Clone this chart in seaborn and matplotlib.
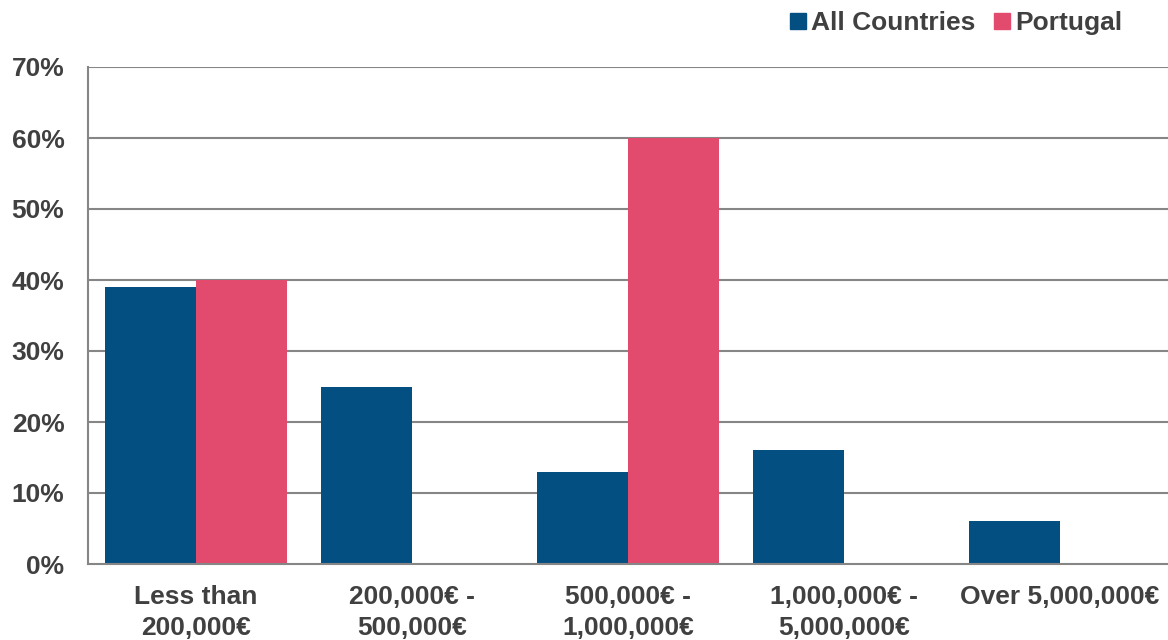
import matplotlib
matplotlib.use("Agg")
import matplotlib.pyplot as plt
import seaborn as sns
import pandas as pd
from matplotlib.lines import Line2D

categories = ["Less than\n200,000€", "200,000€ -\n500,000€", "500,000€ -\n1,000,000€",
              "1,000,000€ -\n5,000,000€", "Over 5,000,000€"]
series_names = ["All Countries", "Portugal"]
all_countries = [39, 25, 13, 16, 6]
portugal = [40, 0, 60, 0, 0]
y_ticks = [0, 10, 20, 30, 40, 50, 60, 70]
colors = ["#034F82", "#E24A6E"]

df = pd.DataFrame({
    "category": categories * 2,
    "series": [series_names[0]] * len(categories) + [series_names[1]] * len(categories),
    "value": all_countries + portugal,
})

sns.set_theme(style="white")
plt.rcParams["font.family"] = ["Liberation Sans", "DejaVu Sans"]
plt.rcParams["font.weight"] = "bold"
text_color = "#404040"
grid_color = "#868686"

fig = plt.figure(figsize=(11.68, 6.4), dpi=100)
ax = fig.add_axes([88 / 1168, 1 - 564 / 640, 1 - 88 / 1168, (564 - 67) / 640])

sns.barplot(data=df, x="category", y="value", hue="series", order=categories,
            hue_order=series_names, palette=colors, width=0.84, saturation=1,
            linewidth=0, ax=ax, legend=False)

ax.set_xlim(-0.5, len(categories) - 0.5)
ax.set_ylim(0, 70)
ax.set_yticks(y_ticks)
ax.set_yticklabels([f"{t}%" for t in y_ticks])
ax.set_xlabel("")
ax.set_ylabel("")
for t in y_ticks[1:]:
    ax.axhline(t, color=grid_color, lw=1.5, zorder=0)
ax.set_axisbelow(True)

for s in ["top", "right"]:
    ax.spines[s].set_visible(False)
for s in ["left", "bottom"]:
    ax.spines[s].set_color(grid_color)
    ax.spines[s].set_linewidth(1.5)

ax.tick_params(axis="y", length=0, pad=17, labelsize=19, labelcolor=text_color)
ax.tick_params(axis="x", length=0, pad=15, labelsize=19, labelcolor=text_color)
for lab in ax.get_xticklabels() + ax.get_yticklabels():
    lab.set_fontweight("bold")
for lab in ax.get_xticklabels():
    lab.set_linespacing(1.4)

handles = [Line2D([0], [0], marker="s", linestyle="", markersize=11,
                  markerfacecolor=c, markeredgecolor=c) for c in colors]
leg = fig.legend(handles, series_names, loc="center", bbox_to_anchor=(955 / 1168, 1 - 23 / 640),
                 ncol=2, frameon=False, fontsize=19, handletextpad=0.1, columnspacing=0.6,
                 handlelength=0.8, borderaxespad=0)
for t in leg.get_texts():
    t.set_color(text_color)
    t.set_fontweight("bold")

fig.savefig("out.png", dpi=100)
